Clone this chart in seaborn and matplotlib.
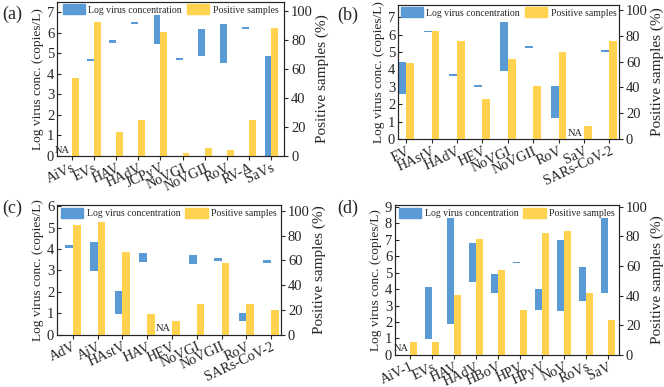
import numpy as np
import matplotlib
matplotlib.use("Agg")
from matplotlib import pyplot as plt
from matplotlib.patches import Patch
import seaborn as sns

nan = np.nan

# (a)
cats_a = ["AiVs", "EVs", "HAV", "HAdV", "JCPyV", "NoVGI", "NoVGII", "RoV", "RV-A", "SaVs"]
low_a = [nan, 4.62, 5.50, 6.44, 5.45, 4.67, 4.88, 4.52, 6.18, 0.0]
high_a = [nan, 4.72, 5.63, 6.54, 6.88, 4.76, 6.20, 6.41, 6.28, 4.88]
pos_a = [54.1, 92.4, 16.7, 25.2, 86.0, 2.3, 5.7, 4.1, 25.2, 88.5]

# (b)
cats_b = ["EV", "HAstV", "HAdV", "HEV", "NoVGI", "NoVGII", "RoV", "SaV", "SARs-CoV-2"]
low_b = [2.58, 6.14, 3.63, 2.98, 3.92, 5.22, 1.20, nan, 4.99]
high_b = [4.42, 6.23, 3.75, 3.12, 6.71, 5.35, 3.02, nan, 5.12]
pos_b = [58.8, 84.0, 76.0, 31.2, 62.1, 41.2, 67.3, 10.3, 76.0]

# (c)
cats_c = ["AdV", "AiV", "HAstV", "HAV", "HEV", "NoVGI", "NoVGII", "RoV", "SARs-CoV-2"]
low_c = [4.06, 2.98, 0.99, 3.41, nan, 3.32, 3.44, 0.62, 3.35]
high_c = [4.17, 4.33, 2.05, 3.80, nan, 3.72, 3.57, 1.00, 3.47]
pos_c = [88.5, 91.2, 66.4, 17.1, 11.2, 24.5, 57.9, 24.5, 20.0]

# (d)
cats_d = ["AiV-1", "EVs", "HAV", "HAdV", "HBoV", "HPV", "HPyV", "NoV", "RoVs", "SaV"]
low_d = [nan, 0.97, 1.86, 4.42, 3.78, 5.60, 2.72, 2.68, 3.30, 3.74]
high_d = [nan, 4.15, 8.30, 6.82, 4.94, 5.64, 3.98, 7.00, 5.34, 8.34]
pos_d = [8.4, 8.4, 40.7, 78.0, 57.5, 30.2, 82.4, 83.3, 41.8, 23.8]

sns.set_style("ticks")
plt.rcParams['font.family'] = ['Liberation Serif', 'DejaVu Serif']

BLUE = "#5b9bd5"
YELLOW = "#ffd34f"

fig = plt.figure(figsize=(6.64, 3.87), dpi=100)


def panel(rect, cats, low, high, pos, ylim_l, ylim_r, xlim, nmax, tag, tag_xy, w=0.31):
    ax = fig.add_axes(rect)
    ax2 = ax.twinx()
    x = np.arange(len(cats))
    low = np.array(low, float)
    high = np.array(high, float)
    ok = ~np.isnan(low)

    # blue floating bars = min..max log concentration
    ax.bar(x[ok] - w / 2, high[ok] - low[ok], bottom=low[ok], width=w,
           color=BLUE, linewidth=0)
    # yellow bars = % positive samples, moved right of the tick
    sns.barplot(x=cats, y=pos, ax=ax2, color=YELLOW, width=w,
                saturation=1, errorbar=None, linewidth=0)
    for p in ax2.patches:
        p.set_x(p.get_x() + w / 2)

    for i in np.where(~ok)[0]:
        ax.annotate("NA", (i, 0), xytext=(-1, 1), textcoords="offset points",
                    ha="right", va="bottom", fontsize=7.5)

    ax.set_xlim(*xlim)
    ax.set_ylim(0, ylim_l)
    ax2.set_ylim(0, ylim_r)
    ax.set_xticks(x)
    ax.set_xticklabels(cats, rotation=25, ha="right", rotation_mode="anchor")
    ax.set_yticks(range(0, nmax + 1))
    ax2.set_yticks(range(0, 101, 20))
    ax.tick_params(axis="y", direction="in", length=3, labelsize=10.5, pad=2)
    ax.tick_params(axis="x", direction="out", length=3, labelsize=10.2, pad=1)
    ax2.tick_params(axis="y", direction="out", length=3, labelsize=10.5, pad=2)
    ax.set_xlabel("")
    ax2.set_xlabel("")
    ax.set_ylabel("Log virus conc. (copies/L)", fontsize=9.6, labelpad=2)
    ax2.set_ylabel("Positive samples (%)", fontsize=11, labelpad=2)

    handles = [Patch(color=BLUE, label="Log virus concentration"),
               Patch(color=YELLOW, label="Positive samples")]
    ax2.legend(handles=handles, loc="upper center", ncol=2, frameon=False,
               fontsize=7, handlelength=2.3, handleheight=1.2,
               handletextpad=0.35, columnspacing=0.5, borderaxespad=0.15,
               borderpad=0.1)
    fig.text(tag_xy[0], tag_xy[1], tag, fontsize=13, ha="left", va="center")


panel([0.0858, 0.597, 0.342, 0.398], cats_a, low_a, high_a, pos_a,
      7.5, 106.5, (-0.66, 9.57), 7, "(a)", (0.003, 0.963))
panel([0.5994, 0.641, 0.3328, 0.346], cats_b, low_b, high_b, pos_b,
      7.7, 104, (-0.32, 8.38), 7, "(b)", (0.508, 0.961))
panel([0.0858, 0.135, 0.3374, 0.335], cats_c, low_c, high_c, pos_c,
      6.05, 104.5, (-0.64, 8.4), 6, "(c)", (0.003, 0.462))
panel([0.5949, 0.083, 0.3373, 0.387], cats_d, low_d, high_d, pos_d,
      9.1, 101, (-0.68, 9.49), 9, "(d)", (0.508, 0.462), w=0.33)

fig.savefig("out.png", dpi=100)
